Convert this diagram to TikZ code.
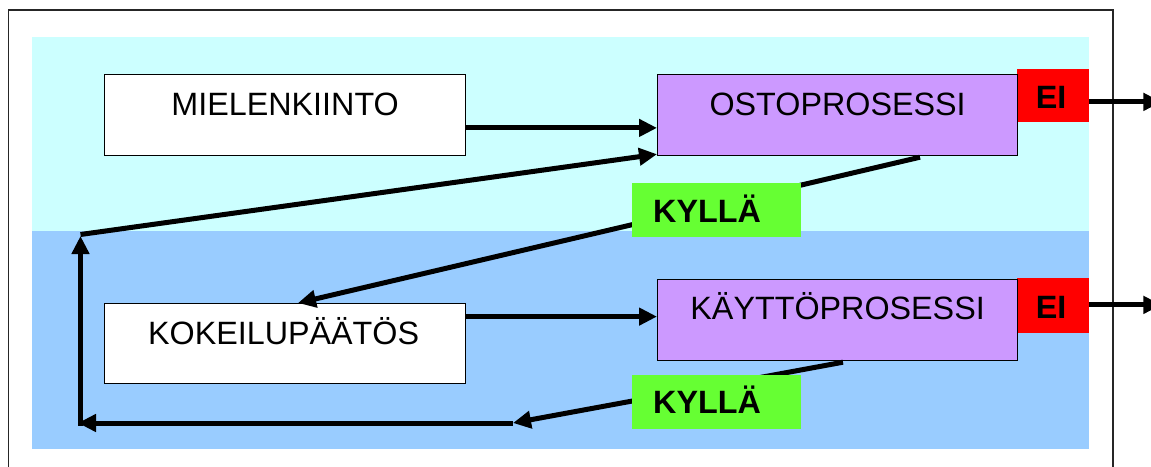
\documentclass[tikz,border=0pt]{standalone}
\usepackage{fontspec}
\setmainfont{Liberation Sans}
\usetikzlibrary{arrows.meta}
\definecolor{bandtop}{HTML}{CCFFFF}
\definecolor{bandbot}{HTML}{99CCFF}
\definecolor{procfill}{HTML}{CC99FF}
\definecolor{nored}{HTML}{FF0000}
\definecolor{yesgreen}{HTML}{66FF33}
\begin{document}
\begin{tikzpicture}[x=1pt,y=-1pt,
  box/.style={draw=black,line width=1.2pt,anchor=north west,inner sep=0pt,
    minimum width=361pt,minimum height=81pt},
  tag/.style={anchor=north west,inner sep=0pt,draw=none},
  lbl/.style={inner sep=0pt,font=\fontsize{32.3pt}{38pt}\selectfont},
  blbl/.style={lbl,font=\fontsize{32.3pt}{38pt}\selectfont\bfseries},
  arr/.style={line width=5pt,-{Triangle[length=18pt,width=17pt]}},
  seg/.style={line width=5pt}]
\clip (0,0) rectangle (1151,466);
% outer frame
\draw[line width=1.5pt,black!85] (8.5,10) rectangle (1113,490);
% background bands
\fill[bandtop] (32,37) rectangle (1089,231);
\fill[bandbot] (32,231) rectangle (1089,449);
% answer boxes "EI"
\node[tag,fill=nored,minimum width=72pt,minimum height=53pt] (ei1) at (1017,69) {};
\node[tag,fill=nored,minimum width=72pt,minimum height=55pt] (ei2) at (1017,278) {};
% main boxes
\node[box,fill=white] (mk) at (104,74) {};
\node[box,fill=procfill,minimum width=360pt] (osto) at (657,74) {};
\node[box,fill=white,minimum height=80pt] (kok) at (104,303) {};
\node[box,fill=procfill,minimum width=360pt] (kay) at (657,279) {};
% connectors
\draw[arr] ([yshift=-12.8pt]mk.east) coordinate (m1) -- (m1 -| osto.west);
\draw[arr] ([yshift=27pt]kok.east) coordinate (k1) -- (k1 -| kay.west);
\draw[arr] ([xshift=263pt,yshift=-1pt]osto.south west) -- ([xshift=194pt]kok.north west);
\coordinate (r1) at (513,423);
\coordinate (c1) at (80.5,423);
\coordinate (c2) at (80.5,234.5);
\draw[arr] ([xshift=186pt,yshift=-1pt]kay.south west) -- (r1);
\draw[arr] (r1) -- ([xshift=-2.5pt]c1);
\draw[arr] ([yshift=-2.5pt]c1) -- ([yshift=-1.5pt]c2);
\draw[arr] (c2) -- ([yshift=2pt]osto.south west);
\draw[arr] ([yshift=-6.2pt]ei1.east) -- ++(72,0);
\draw[arr] ([yshift=0.8pt]ei2.east) -- ++(72,0);
% answer boxes "KYLLÄ"
\node[tag,fill=yesgreen,minimum width=169pt,minimum height=54pt] (ky1) at (632,183) {};
\node[tag,fill=yesgreen,minimum width=169pt,minimum height=54pt] (ky2) at (632,375) {};
% texts
\node[lbl,anchor=base] (tmk) at ([yshift=-41pt]mk.north) {MIELENKIINTO};
\node[lbl,anchor=base] (tosto) at ([yshift=-41pt]osto.north) {OSTOPROSESSI};
\node[lbl,anchor=base] (tkay) at ([yshift=-40pt]kay.north) {KÄYTTÖPROSESSI};
\node[lbl,anchor=base] (tkok) at ([xshift=-1.5pt,yshift=-41pt]kok.north) {KOKEILUPÄÄTÖS};
\node[blbl,anchor=base west] (tky1) at ([xshift=21pt,yshift=-39pt]ky1.north west) {KYLLÄ};
\node[blbl,anchor=base west] (tky2) at ([xshift=21pt,yshift=-38pt]ky2.north west) {KYLLÄ};
\node[blbl,anchor=base] (tei1) at ([xshift=-2pt,yshift=-39pt]ei1.north) {EI};
\node[blbl,anchor=base] (tei2) at ([xshift=-2pt,yshift=-40pt]ei2.north) {EI};
\end{tikzpicture}
\end{document}
